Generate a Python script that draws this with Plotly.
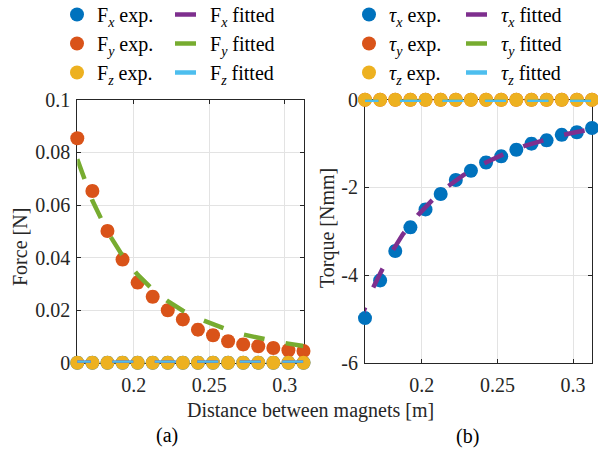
import plotly.graph_objects as go

# ---------------- data ----------------
x_exp = [0.1625, 0.1725, 0.1825, 0.1925, 0.2025, 0.2125, 0.2225, 0.2325,
         0.2425, 0.2525, 0.2625, 0.2725, 0.2825, 0.2925, 0.3025, 0.3125]
x_fit = [0.1575, 0.1675, 0.1775, 0.1875, 0.1975, 0.2075, 0.2175, 0.2275, 0.2375,
         0.2475, 0.2575, 0.2675, 0.2775, 0.2875, 0.2975, 0.3075, 0.3175]
x_fit_Fy = [0.1625, 0.1725, 0.1825, 0.1925, 0.2025, 0.2125, 0.2225, 0.2325,
            0.2425, 0.2525, 0.2625, 0.2725, 0.2825, 0.2925, 0.3025, 0.3125]

Fx_exp = [0.0] * 16
Fy_exp = [0.0854, 0.0653, 0.0501, 0.0393, 0.0305, 0.0251, 0.0200, 0.0165,
          0.0126, 0.0105, 0.0082, 0.0070, 0.0063, 0.0056, 0.0048, 0.0045]
Fz_exp = [0.0] * 16
F_err = [0.0021] * 16

Fx_fit = [0.0] * 17
Fy_fit = [0.0774, 0.0617, 0.0498, 0.0407, 0.0335, 0.0279, 0.0234, 0.0198,
          0.0169, 0.0145, 0.0125, 0.0108, 0.0094, 0.0083, 0.0073, 0.0064]
Fz_fit = [0.0] * 17

Tx_exp = [-4.98, -4.12, -3.45, -2.91, -2.50, -2.15, -1.83, -1.62,
          -1.43, -1.29, -1.14, -1.00, -0.925, -0.80, -0.74, -0.645]
Ty_exp = [0.0] * 16
Tz_exp = [0.0] * 16
T_err = [0.125] * 16

Tx_fit = [-5.18, -4.31, -3.62, -3.07, -2.63, -2.27, -1.97, -1.72, -1.51,
          -1.335, -1.186, -1.057, -0.947, -0.852, -0.769, -0.696, -0.632]
Ty_fit = [0.0] * 17
Tz_fit = [0.0] * 17

F_ticks = [0, 0.02, 0.04, 0.06, 0.08, 0.1]
F_ticktext = ["0", "0.02", "0.04", "0.06", "0.08", "0.1"]
T_ticks = [-6, -4, -2, 0]
T_ticktext = ["-6", "-4", "-2", "0"]
x_ticks = [0.2, 0.25, 0.3]
x_ticktext = ["0.2", "0.25", "0.3"]

# ---------------- style ----------------
C_BLUE = "#0072BD"
C_ORANGE = "#D95319"
C_YELLOW = "#EDB120"
C_PURPLE = "#7E2F8E"
C_GREEN = "#77AC30"
C_CYAN = "#4DBEEE"
FONT = "'Liberation Serif', Tinos, 'Times New Roman', Times, 'DejaVu Serif', serif"
DASH = "21px,21.5px"
W, H = 598, 452

fig = go.Figure()


def add_exp(x, y, err, color, name, xa, ya, legend):
    fig.add_trace(go.Scatter(
        x=x, y=y, mode="markers", name=name, legend=legend,
        xaxis=xa, yaxis=ya, cliponaxis=False,
        marker=dict(color=color, size=14, line=dict(width=0)),
        error_y=dict(type="data", array=err, visible=True, color=color,
                     thickness=1, width=4),
    ))


def add_fit(x, y, color, name, xa, ya, legend):
    fig.add_trace(go.Scatter(
        x=x, y=y, mode="lines", name=name, legend=legend,
        xaxis=xa, yaxis=ya,
        line=dict(color=color, width=4.5, dash=DASH),
    ))


# left subplot
add_exp(x_exp, Fx_exp, F_err, C_BLUE, "F<sub><i>x</i></sub> exp.", "x", "y", "legend")
add_exp(x_exp, Fy_exp, F_err, C_ORANGE, "F<sub><i>y</i></sub> exp.", "x", "y", "legend")
add_exp(x_exp, Fz_exp, F_err, C_YELLOW, "F<sub><i>z</i></sub> exp.", "x", "y", "legend")
add_fit(x_fit, Fx_fit, C_PURPLE, "F<sub><i>x</i></sub> fitted", "x", "y", "legend2")
add_fit(x_fit_Fy, Fy_fit, C_GREEN, "F<sub><i>y</i></sub> fitted", "x", "y", "legend2")
add_fit(x_fit, Fz_fit, C_CYAN, "F<sub><i>z</i></sub> fitted", "x", "y", "legend2")

# right subplot
add_exp(x_exp, Tx_exp, T_err, C_BLUE, "<i>τ</i><sub><i>x</i></sub> exp.", "x2", "y2", "legend3")
add_exp(x_exp, Ty_exp, T_err, C_ORANGE, "<i>τ</i><sub><i>y</i></sub> exp.", "x2", "y2", "legend3")
add_exp(x_exp, Tz_exp, T_err, C_YELLOW, "<i>τ</i><sub><i>z</i></sub> exp.", "x2", "y2", "legend3")
add_fit(x_fit, Tx_fit, C_PURPLE, "<i>τ</i><sub><i>x</i></sub> fitted", "x2", "y2", "legend4")
add_fit(x_fit, Ty_fit, C_GREEN, "<i>τ</i><sub><i>y</i></sub> fitted", "x2", "y2", "legend4")
add_fit(x_fit, Tz_fit, C_CYAN, "<i>τ</i><sub><i>z</i></sub> fitted", "x2", "y2", "legend4")

AX = "#262626"
GRID = "#e3e3e3"


def xax(domain, anchor):
    return dict(domain=domain, anchor=anchor, range=[0.1625, 0.3125],
                tickvals=x_ticks, ticktext=x_ticktext, ticks="inside", ticklen=4,
                tickcolor=AX, showline=True, linecolor=AX, linewidth=1, mirror="ticks",
                showgrid=True, gridcolor=GRID, gridwidth=1, zeroline=False,
                layer="below traces", ticklabelstandoff=4, automargin=False,
                tickfont=dict(family=FONT, size=20, color=AX))


def yax(domain, anchor, rng, tv, tt):
    return dict(domain=domain, anchor=anchor, range=rng,
                tickvals=tv, ticktext=tt, ticks="inside", ticklen=4,
                tickcolor=AX, showline=True, linecolor=AX, linewidth=1, mirror="ticks",
                showgrid=True, gridcolor=GRID, gridwidth=1, zeroline=False,
                layer="below traces", ticklabelstandoff=2, automargin=False,
                tickfont=dict(family=FONT, size=20, color=AX))


ydom = [1 - 362.8 / H, 1 - 99.8 / H]
leg_common = dict(orientation="v", yanchor="top", xanchor="left",
                  bgcolor="rgba(0,0,0,0)", borderwidth=0,
                  font=dict(family=FONT, size=20, color="#000000"),
                  itemwidth=30, tracegroupgap=0)

fig.update_layout(
    width=W, height=H,
    margin=dict(l=0, r=0, t=0, b=0, autoexpand=False),
    paper_bgcolor="white", plot_bgcolor="white",
    font=dict(family=FONT, size=20, color=AX),
    xaxis=xax([77.3 / W, 303.5 / W], "y"),
    yaxis=yax(ydom, "x", [0, 0.1], F_ticks, F_ticktext),
    xaxis2=xax([365 / W, 592 / W], "y2"),
    yaxis2=yax(ydom, "x2", [-6, 0], T_ticks, T_ticktext),
    legend=dict(leg_common, x=57 / W, y=1 + 5 / H),
    legend2=dict(leg_common, x=170 / W, y=1 + 5 / H),
    legend3=dict(leg_common, x=349 / W, y=1 + 5 / H),
    legend4=dict(leg_common, x=461 / W, y=1 + 5 / H),
    showlegend=True,
)


def ann(text, px, py, angle=0, color=AX, size=20):
    fig.add_annotation(text=text, x=px / W, y=1 - py / H, xref="paper", yref="paper",
                       showarrow=False, xanchor="center", yanchor="middle",
                       textangle=angle, font=dict(family=FONT, size=size, color=color))


ann("Force [N]", 20, 247, angle=-90)
ann("Torque [Nmm]", 327, 228, angle=-90)
ann("Distance between magnets [m]", 310, 410)
ann("(a)", 167, 435, color="#000000")
ann("(b)", 467, 436, color="#000000")

fig.write_html(
    "out.html",
    config={"displayModeBar": False},
    post_script="document.body.style.margin='0px';document.body.style.padding='0px';",
)
